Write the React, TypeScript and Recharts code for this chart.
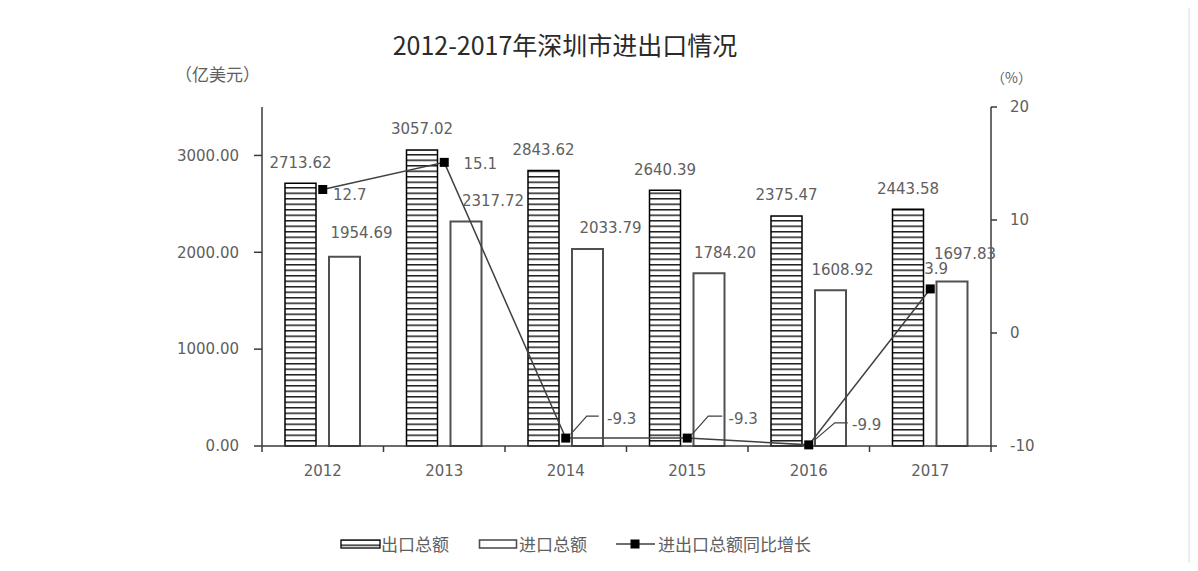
import React from 'react';
import { ComposedChart, Bar, Line, XAxis, YAxis, LabelList } from 'recharts';

// ---- data ----
const years = ['2012', '2013', '2014', '2015', '2016', '2017'];
const exportTotals = [2713.62, 3057.02, 2843.62, 2640.39, 2375.47, 2443.58];
const importTotals = [1954.69, 2317.72, 2033.79, 1784.2, 1608.92, 1697.83];
const growthRates = [12.7, 15.1, -9.3, -9.3, -9.9, 3.9];
const leftTicks = [0, 1000, 2000, 3000];
const rightTicks = [-10, 0, 10, 20];

const title = '2012-2017年深圳市进出口情况';
const leftUnit = '（亿美元）';
const rightUnit = '（%）';
const legendNames = ['出口总额', '进口总额', '进出口总额同比增长'];

// ---- label placement (layout only) ----
const importLabelShift: [number, number][] = [[17, -24], [27, -21], [23, -22], [16, -21], [12, -21], [13, -28]];
const growthLabelShift: [number, number][] = [[27, 5], [36, 1], [56, -20], [56, -20], [58, -20], [6, -20]];
const leaderLines: Record<number, [number, number][]> = {
  2: [[5, -4], [21, -22], [33, -22]],
  3: [[5, -4], [21, -22], [35, -22]],
  4: [[6, -5], [26, -22], [39, -22]],
};

const data = years.map((y, i) => ({
  year: y,
  exp: exportTotals[i],
  imp: importTotals[i],
  growth: growthRates[i],
}));

const W = 1198;
const H = 571;
const PLOT_LEFT = 262;
const PLOT_RIGHT = 991;
const PLOT_TOP = 107;
const PLOT_BOTTOM = 446;
const BAND = (PLOT_RIGHT - PLOT_LEFT) / years.length;

const NUM_FONT = '"DejaVu Sans", sans-serif';
const CJK_FONT = '"Noto Sans CJK SC", sans-serif';
const AXIS_COLOR = '#3a3a3a';
const TEXT_COLOR = '#606060';

const XTick = (props: any) => {
  const { x, y, payload, index } = props;
  const lines = [
    <line key="l" x1={x - BAND / 2} x2={x - BAND / 2} y1={y} y2={y + 6} stroke={AXIS_COLOR} strokeWidth={1.5} />,
  ];
  if (index === years.length - 1) {
    lines.push(
      <line key="r" x1={x + BAND / 2} x2={x + BAND / 2} y1={y} y2={y + 6} stroke={AXIS_COLOR} strokeWidth={1.5} />
    );
  }
  return (
    <g>
      {lines}
      <text x={x} y={y + 30} textAnchor="middle" fontFamily={NUM_FONT} fontSize={15} fill={TEXT_COLOR}>
        {payload.value}
      </text>
    </g>
  );
};

const ExportLabel = (props: any) => {
  const { x, y, width, value } = props;
  return (
    <text x={x + width / 2} y={y - 21 + 5.5} textAnchor="middle" fontFamily={NUM_FONT} fontSize={15} fill={TEXT_COLOR}>
      {Number(value).toFixed(2)}
    </text>
  );
};

const ImportLabel = (props: any) => {
  const { x, y, width, value, index } = props;
  const [dx, dy] = importLabelShift[index] || [0, -21];
  return (
    <text x={x + width / 2 + dx} y={y + dy + 5.5} textAnchor="middle" fontFamily={NUM_FONT} fontSize={15} fill={TEXT_COLOR}>
      {Number(value).toFixed(2)}
    </text>
  );
};

const GrowthLabel = (props: any) => {
  const { x, y, value, index } = props;
  const [dx, dy] = growthLabelShift[index] || [0, -20];
  const leader = leaderLines[index];
  return (
    <g>
      {leader && (
        <polyline
          points={leader.map(([lx, ly]) => `${x + lx},${y + ly}`).join(' ')}
          fill="none"
          stroke="#404040"
          strokeWidth={1.2}
        />
      )}
      <text x={x + dx} y={y + dy + 5.5} textAnchor="middle" fontFamily={NUM_FONT} fontSize={15} fill={TEXT_COLOR}>
        {value}
      </text>
    </g>
  );
};

const SquareDot = (props: any) => {
  const { cx, cy } = props;
  if (cx == null || cy == null) return null;
  return <rect x={cx - 4.5} y={cy - 4.5} width={9} height={9} fill="#000" />;
};

export default function App() {
  return (
    <div style={{ margin: -8, width: W, height: H, position: 'relative', background: '#fff', overflow: 'hidden' }}>
      <svg width={0} height={0} style={{ position: 'absolute' }}>
        <defs>
          <pattern id="hatch" patternUnits="userSpaceOnUse" width={10} height={5.5}>
            <rect x={0} y={0} width={10} height={5.5} fill="#fff" />
            <rect x={0} y={0} width={10} height={1.5} fill="#1e1e1e" />
          </pattern>
        </defs>
      </svg>
      <ComposedChart
        width={W}
        height={H}
        data={data}
        margin={{ top: PLOT_TOP, bottom: H - PLOT_BOTTOM - 40, left: PLOT_LEFT - 80, right: W - PLOT_RIGHT - 60 }}
        barSize={31}
        barGap={13}
      >
        <XAxis
          dataKey="year"
          height={40}
          axisLine={{ stroke: AXIS_COLOR, strokeWidth: 1.5 }}
          tickLine={false}
          tickSize={0}
          tickMargin={0}
          tick={<XTick />}
          interval={0}
        />
        <YAxis
          yAxisId="left"
          orientation="left"
          width={80}
          domain={[0, 3500]}
          ticks={leftTicks}
          interval={0}
          tickFormatter={(v: number) => v.toFixed(2)}
          axisLine={{ stroke: AXIS_COLOR, strokeWidth: 1.5 }}
          tickLine={{ stroke: AXIS_COLOR, strokeWidth: 1.5 }}
          tickSize={8}
          tickMargin={15}
          tick={{ fontFamily: NUM_FONT, fontSize: 15, fill: TEXT_COLOR }}
        />
        <YAxis
          yAxisId="right"
          orientation="right"
          width={60}
          domain={[-10, 20]}
          ticks={rightTicks}
          interval={0}
          axisLine={{ stroke: AXIS_COLOR, strokeWidth: 1.5 }}
          tickLine={{ stroke: AXIS_COLOR, strokeWidth: 1.5 }}
          tickSize={6}
          tickMargin={13}
          tick={{ fontFamily: NUM_FONT, fontSize: 15, fill: TEXT_COLOR, textAnchor: 'start' }}
        />
        <Bar yAxisId="left" dataKey="exp" fill="url(#hatch)" stroke="#000" strokeWidth={1.5} isAnimationActive={false}>
          <LabelList dataKey="exp" content={<ExportLabel />} />
        </Bar>
        <Bar yAxisId="left" dataKey="imp" fill="#fff" stroke="#505050" strokeWidth={2} isAnimationActive={false}>
          <LabelList dataKey="imp" content={<ImportLabel />} />
        </Bar>
        <Line
          yAxisId="right"
          dataKey="growth"
          stroke="#404040"
          strokeWidth={1.5}
          dot={<SquareDot />}
          activeDot={false}
          isAnimationActive={false}
        >
          <LabelList dataKey="growth" content={<GrowthLabel />} />
        </Line>
      </ComposedChart>
      <svg
        width={W}
        height={H}
        style={{ position: 'absolute', left: 0, top: 0, pointerEvents: 'none' }}
      >
        <line x1={7} y1={7} x2={7} y2={H} stroke="#e6e6e6" strokeWidth={2} />
        <line x1={7} y1={7} x2={1189} y2={7} stroke="#e6e6e6" strokeWidth={2} />
        <line x1={1189} y1={7} x2={1189} y2={H} stroke="#eeeeee" strokeWidth={2} />
        <text x={565} y={55} textAnchor="middle" fontFamily={CJK_FONT} fontSize={25} fill="#2a2a2a">
          {title}
        </text>
        <text x={175} y={81} fontFamily={CJK_FONT} fontSize={17} fill={TEXT_COLOR}>
          {leftUnit}
        </text>
        <text x={991} y={83} fontFamily={CJK_FONT} fontSize={14} fill={TEXT_COLOR}>
          {rightUnit}
        </text>
        {/* legend */}
        <rect x={341} y={540} width={39} height={8} fill="url(#hatch)" stroke="#000" strokeWidth={1.3} />
        <text x={381} y={550.5} fontFamily={CJK_FONT} fontSize={17} fill={TEXT_COLOR}>
          {legendNames[0]}
        </text>
        <rect x={479.5} y={540} width={37} height={8} fill="#fff" stroke="#505050" strokeWidth={1.6} />
        <text x={519} y={550.5} fontFamily={CJK_FONT} fontSize={17} fill={TEXT_COLOR}>
          {legendNames[1]}
        </text>
        <line x1={616} y1={544} x2={655} y2={544} stroke="#404040" strokeWidth={1.5} />
        <rect x={630.5} y={539.5} width={9} height={9} fill="#000" />
        <text x={658} y={550.5} fontFamily={CJK_FONT} fontSize={17} fill={TEXT_COLOR}>
          {legendNames[2]}
        </text>
      </svg>
    </div>
  );
}
